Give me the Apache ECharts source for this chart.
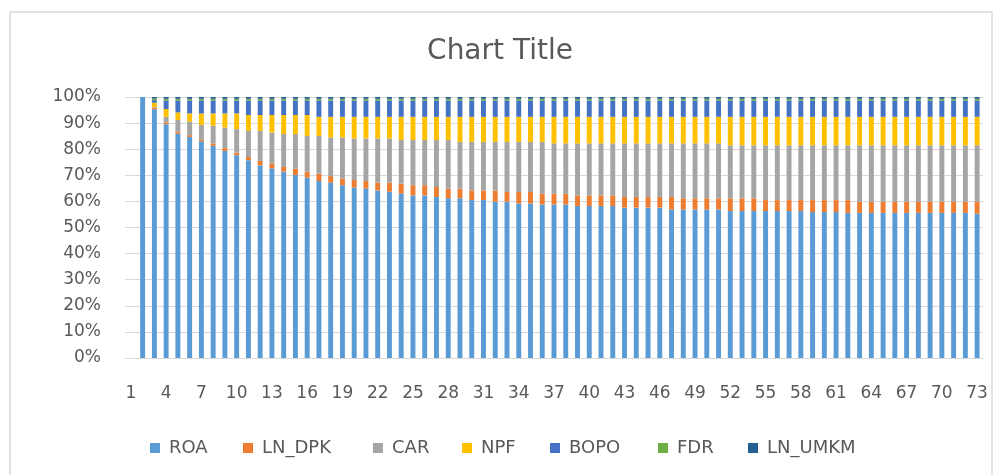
<!DOCTYPE html>
<html>
<head>
<meta charset="utf-8">
<title>Chart Title</title>
<script src="https://cdn.jsdelivr.net/npm/echarts@6/dist/echarts.min.js"></script>
<style>
  html, body { margin: 0; padding: 0; background: #fff; }
  .frame {
    position: absolute;
    left: 9px;
    top: 11px;
    width: 984px;
    height: 480px;
    border: 2px solid #e3e3e3;
    box-sizing: border-box;
  }
  #chart { position: absolute; left: 0; top: 0; width: 1000px; height: 475px; }
</style>
</head>
<body>
<div class="frame"></div>
<div id="chart"></div>
<script>
// periods 1..73 (period 1 has no bar in the source)
var categories = ['1','2','3','4','5','6','7','8','9','10',
  '11','12','13','14','15','16','17','18','19','20',
  '21','22','23','24','25','26','27','28','29','30',
  '31','32','33','34','35','36','37','38','39','40',
  '41','42','43','44','45','46','47','48','49','50',
  '51','52','53','54','55','56','57','58','59','60',
  '61','62','63','64','65','66','67','68','69','70',
  '71','72','73'];

// share of each variable, in percent
var roa = [null,100,95.3,89.6,86.0,84.7,83.0,81.3,79.3,77.7,
  75.8,73.8,72.7,71.4,70.1,69.1,67.8,67.2,66.2,65.3,
  64.9,64.2,63.7,63.0,62.3,62.3,61.7,61.2,61.2,60.5,
  60.5,59.9,59.9,59.2,59.2,58.8,58.8,58.8,58.2,58.2,
  58.2,58.2,57.6,57.6,57.6,57.6,56.9,56.9,56.9,56.9,
  56.9,56.3,56.3,56.3,56.3,56.3,56.3,56.3,55.9,55.9,
  55.9,55.6,55.6,55.6,55.6,55.6,55.6,55.6,55.6,55.6,
  55.6,55.6,55.3];
var lnDpk = [null,0,0.7,0.7,0.7,0.7,0.7,0.9,1.1,1.0,
  1.2,1.7,1.8,1.8,2.5,2.3,2.8,2.5,2.6,2.9,
  2.9,3.0,3.5,3.8,3.9,3.9,3.8,3.7,3.7,3.7,
  3.7,4.3,3.7,4.4,4.4,4.1,4.1,4.1,4.1,4.1,
  4.1,4.1,4.1,4.1,4.1,4.1,4.8,4.3,4.3,4.3,
  4.3,4.9,4.9,4.9,4.2,4.2,4.2,4.2,4.6,4.6,
  4.6,4.9,4.3,4.3,4.3,4.3,4.3,4.3,4.3,4.3,
  4.3,4.3,4.6];
var car = [null,0,0.2,2.1,4.5,5.2,5.6,6.8,7.9,9.0,
  10.0,11.5,11.9,12.6,13.2,13.7,14.5,14.8,15.7,15.9,
  16.3,16.9,16.9,16.7,17.3,17.3,18.0,18.6,17.9,18.6,
  18.6,18.6,19.2,19.2,19.2,19.9,19.3,19.3,19.9,19.9,
  19.9,19.9,20.5,20.5,20.5,20.5,20.5,21.0,21.0,21.0,
  21.0,20.3,20.3,20.3,21.0,21.0,21.0,21.0,21.0,21.0,
  21.0,21.0,21.6,21.6,21.6,21.6,21.6,21.6,21.6,21.6,
  21.6,21.6,21.6];
var npf = [null,0,1.6,3.0,2.9,3.1,4.4,4.7,5.4,6.0,
  6.1,6.1,6.7,7.3,7.3,8.0,7.3,7.9,7.9,8.3,
  8.3,8.3,8.3,8.9,8.9,8.9,8.9,8.9,9.6,9.6,
  9.6,9.6,9.6,9.6,9.6,9.6,10.2,10.2,10.2,10.2,
  10.2,10.2,10.2,10.2,10.2,10.2,10.2,10.2,10.2,10.2,
  10.2,10.9,10.9,10.9,10.9,10.9,10.9,10.9,10.9,10.9,
  10.9,10.9,10.9,10.9,10.9,10.9,10.9,10.9,10.9,10.9,
  10.9,10.9,10.9];
var bopo = [null,0,1.0,3.3,4.6,5.0,5.0,5.0,5.0,5.0,
  5.6,5.6,5.6,5.6,5.6,5.6,6.3,6.3,6.3,6.3,
  6.3,6.3,6.3,6.3,6.3,6.3,6.3,6.3,6.3,6.3,
  6.3,6.3,6.3,6.3,6.3,6.3,6.3,6.3,6.3,6.3,
  6.3,6.3,6.3,6.3,6.3,6.3,6.3,6.3,6.3,6.3,
  6.3,6.3,6.3,6.3,6.3,6.3,6.3,6.3,6.3,6.3,
  6.3,6.3,6.3,6.3,6.3,6.3,6.3,6.3,6.3,6.3,
  6.3,6.3,6.3];
var fdr = [null,0,0.6,0.6,0.6,0.6,0.6,0.6,0.6,0.6,
  0.6,0.6,0.6,0.6,0.6,0.6,0.6,0.6,0.6,0.6,
  0.6,0.6,0.6,0.6,0.6,0.6,0.6,0.6,0.6,0.6,
  0.6,0.6,0.6,0.6,0.6,0.6,0.6,0.6,0.6,0.6,
  0.6,0.6,0.6,0.6,0.6,0.6,0.6,0.6,0.6,0.6,
  0.6,0.6,0.6,0.6,0.6,0.6,0.6,0.6,0.6,0.6,
  0.6,0.6,0.6,0.6,0.6,0.6,0.6,0.6,0.6,0.6,
  0.6,0.6,0.6];
var lnUmkm = [null,0,0.6,0.7,0.7,0.7,0.7,0.7,0.7,0.7,
  0.7,0.7,0.7,0.7,0.7,0.7,0.7,0.7,0.7,0.7,
  0.7,0.7,0.7,0.7,0.7,0.7,0.7,0.7,0.7,0.7,
  0.7,0.7,0.7,0.7,0.7,0.7,0.7,0.7,0.7,0.7,
  0.7,0.7,0.7,0.7,0.7,0.7,0.7,0.7,0.7,0.7,
  0.7,0.7,0.7,0.7,0.7,0.7,0.7,0.7,0.7,0.7,
  0.7,0.7,0.7,0.7,0.7,0.7,0.7,0.7,0.7,0.7,
  0.7,0.7,0.7];

var seriesNames = ['ROA','LN_DPK','CAR','NPF','BOPO','FDR','LN_UMKM'];
var seriesData = [roa, lnDpk, car, npf, bopo, fdr, lnUmkm];
var colors = ['#5B9BD5','#ED7D31','#A5A5A5','#FFC000','#4472C4','#70AD47','#255E91'];
// left edge of each legend key, spread out like the original
var legendLeft = [150, 243, 373, 462, 550, 658, 748];

var FONT = 'DejaVu Sans';
var TEXT = '#595959';

var series = [];
var legends = [];
for (var i = 0; i < seriesNames.length; i++) {
  series.push({
    name: seriesNames[i],
    type: 'bar',
    stack: 'total',
    barWidth: '42%',
    itemStyle: { color: colors[i] },
    data: seriesData[i]
  });
  legends.push({
    data: [seriesNames[i]],
    left: legendLeft[i],
    top: 439,
    padding: 0,
    itemWidth: 10,
    itemHeight: 10,
    icon: 'rect',
    selectedMode: false,
    textStyle: { fontFamily: FONT, fontSize: 18, color: TEXT, padding: [0, 0, 0, 4] }
  });
}

var myChart = echarts.init(document.getElementById('chart'), null, { renderer: 'canvas' });
myChart.setOption({
  animation: false,
  color: colors,
  title: {
    text: 'Chart Title',
    left: 'center',
    top: 33,
    textStyle: { fontFamily: FONT, fontSize: 28, fontWeight: 'normal', color: TEXT }
  },
  grid: { left: 125, right: 17, top: 97, bottom: 117 },
  xAxis: {
    type: 'category',
    data: categories,
    axisLine: { lineStyle: { color: '#d9d9d9', width: 1 } },
    axisTick: { show: false },
    axisLabel: {
      interval: 2,
      hideOverlap: false,
      margin: 27,
      fontFamily: FONT,
      fontSize: 17,
      color: TEXT
    }
  },
  yAxis: {
    type: 'value',
    min: 0,
    max: 100,
    interval: 10,
    axisLine: { show: false },
    axisTick: { show: false },
    splitLine: { lineStyle: { color: '#d9d9d9', width: 1 } },
    axisLabel: {
      formatter: '{value}%',
      margin: 24,
      fontFamily: FONT,
      fontSize: 17,
      color: TEXT
    }
  },
  legend: legends,
  series: series
});
</script>
</body>
</html>
